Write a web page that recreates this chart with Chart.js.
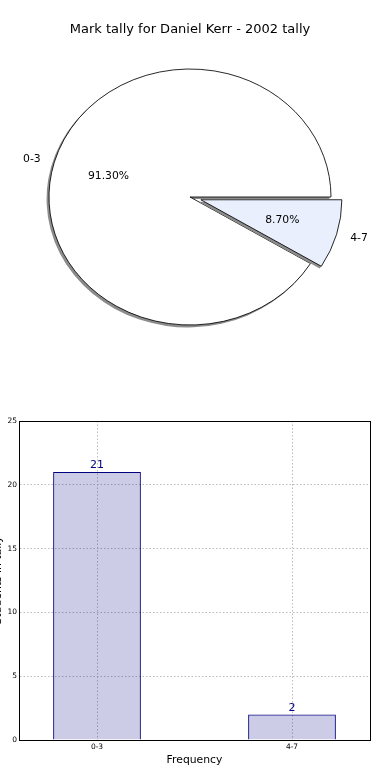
<!DOCTYPE html>
<html>
<head>
<meta charset="utf-8">
<script src="https://cdn.jsdelivr.net/npm/chart.js@4.4.1/dist/chart.umd.min.js"></script>
<style>
  body { margin: 0; background: #fff; }
  canvas { display: block; }
</style>
</head>
<body>
<canvas id="pieChart" width="390" height="380"></canvas>
<canvas id="barChart" width="390" height="400"></canvas>
<script>
// Chart data
const titleText = "Mark tally for Daniel Kerr - 2002 tally";
const categories = ["0-3", "4-7"];
const tally = [21, 2];
const sliceColors = ["#ffffff", "#e9effc"];
const explode = [0, 0.08];
const yTicks = [0, 5, 10, 15, 20, 25];
const xTitle = "Frequency";
const yTitle = "Students in tally";

const total = tally.reduce((a, b) => a + b, 0);
const pieRadius = 128;
const stretchX = 141 / 128; // the pie is drawn as an ellipse
const font = "DejaVu Sans";

// how far a wedge is pulled out along its middle angle
function wedgeShift(arc, i) {
  let mid = (arc.startAngle + arc.endAngle) / 2;
  let off = explode[i] * arc.outerRadius;
  return { dx: off * Math.cos(mid), dy: off * Math.sin(mid) };
}

// Stretch the pie sideways, pull wedges out, add a drop shadow, then write the labels
const pieLook = {
  id: "pieLook",
  beforeDatasetDraw(chart, args) {
    let ctx = chart.ctx;
    let arcs = chart.getDatasetMeta(args.index).data;
    let cx = arcs[0].x, cy = arcs[0].y;
    ctx.save();
    ctx.translate(cx, cy);
    ctx.scale(stretchX, 1);
    ctx.translate(-cx, -cy);
    arcs.forEach((arc, i) => {
      let s = wedgeShift(arc, i);
      // shadow, shifted down-left
      ctx.save();
      ctx.translate(s.dx - 2 / stretchX, s.dy + 2);
      ctx.beginPath();
      ctx.moveTo(cx, cy);
      ctx.arc(cx, cy, arc.outerRadius + 0.4, arc.startAngle, arc.endAngle);
      ctx.closePath();
      ctx.fillStyle = "#8c8c8c";
      ctx.fill();
      ctx.restore();
      // the wedge itself
      ctx.save();
      ctx.translate(s.dx, s.dy);
      arc.draw(ctx, chart.chartArea);
      ctx.restore();
    });
    ctx.restore();
    return false;
  },
  afterDatasetsDraw(chart) {
    let ctx = chart.ctx;
    ctx.save();
    ctx.font = "10.8px '" + font + "'";
    ctx.fillStyle = "#000";
    ctx.textBaseline = "middle";
    chart.getDatasetMeta(0).data.forEach((arc, i) => {
      let mid = (arc.startAngle + arc.endAngle) / 2;
      let r = arc.outerRadius;
      let off = explode[i] * r;
      let c = Math.cos(mid), s = Math.sin(mid);
      // category label
      ctx.textAlign = c < 0 ? "right" : "left";
      ctx.fillText(categories[i], arc.x + (1.1 * r + off) * c * stretchX, arc.y + (1.1 * r + off) * s);
      // percentage
      ctx.textAlign = "center";
      let pct = (tally[i] / total * 100).toFixed(2) + "%";
      ctx.fillText(pct, arc.x + (0.6 * r + off) * c * stretchX, arc.y + (0.6 * r + off) * s);
    });
    ctx.restore();
  }
};

new Chart(document.getElementById("pieChart"), {
  type: "pie",
  data: {
    labels: categories,
    datasets: [{
      data: tally,
      backgroundColor: sliceColors,
      borderColor: "#000",
      borderWidth: 0.8,
      hoverOffset: 0,
      clip: false
    }]
  },
  options: {
    responsive: false,
    animation: false,
    events: [],
    radius: pieRadius,
    rotation: 90 + 360 * tally[1] / total,
    layout: { padding: { top: 0, left: 0, right: 10, bottom: 23.6 } },
    plugins: {
      legend: { display: false },
      tooltip: { enabled: false },
      title: {
        display: true,
        text: titleText,
        color: "#000",
        font: { family: font, size: 13, weight: "normal" },
        padding: { top: 22, bottom: 0 }
      }
    }
  },
  plugins: [pieLook]
});

// Box around the plot and the bar values
const barLook = {
  id: "barLook",
  afterDraw(chart) {
    let ctx = chart.ctx;
    let a = chart.chartArea;
    ctx.save();
    ctx.strokeStyle = "#000";
    ctx.lineWidth = 1;
    ctx.strokeRect(Math.round(a.left) + 0.5, Math.round(a.top) + 0.5,
      Math.round(a.right - a.left), Math.round(a.bottom - a.top));
    ctx.font = "11px '" + font + "'";
    ctx.fillStyle = "#000080";
    ctx.textAlign = "center";
    ctx.textBaseline = "bottom";
    chart.getDatasetMeta(0).data.forEach((bar, i) => {
      ctx.fillText(String(tally[i]), bar.x, bar.y - 1);
    });
    ctx.restore();
  }
};

new Chart(document.getElementById("barChart"), {
  type: "bar",
  data: {
    datasets: [{
      data: tally.map((v, i) => ({ x: i, y: v })),
      backgroundColor: "rgba(0,0,128,0.2)",
      borderColor: "#000080",
      borderWidth: 1,
      barPercentage: 0.45,
      categoryPercentage: 1
    }]
  },
  options: {
    responsive: false,
    animation: false,
    events: [],
    layout: { padding: { top: 41, left: 0, right: 20, bottom: 0 } },
    plugins: {
      legend: { display: false },
      tooltip: { enabled: false }
    },
    scales: {
      x: {
        type: "linear",
        min: -0.4,
        max: 1.4,
        offset: false,
        afterBuildTicks(axis) { axis.ticks = categories.map((c, i) => ({ value: i })); },
        afterFit(axis) { axis.height = 40; },
        ticks: {
          callback: v => categories[v],
          color: "#000",
          font: { family: font, size: 7.5 },
          padding: 3,
          maxRotation: 0,
          autoSkip: false
        },
        grid: { color: "#bcbcbc", drawTicks: false, offset: false },
        border: { display: true, color: "#000", dash: [1.5, 2] },
        title: {
          display: true,
          text: xTitle,
          color: "#000",
          font: { family: font, size: 10.8 },
          padding: { top: 0, bottom: 13 }
        }
      },
      y: {
        min: 0,
        max: 25,
        afterBuildTicks(axis) { axis.ticks = yTicks.map(v => ({ value: v })); },
        afterFit(axis) { axis.width = 19; },
        ticks: {
          color: "#000",
          font: { family: font, size: 7.5 },
          padding: 2
        },
        grid: { color: "#bcbcbc", drawTicks: false },
        border: { display: true, color: "#000", dash: [1.5, 2] },
        title: {
          display: true,
          text: yTitle,
          color: "#000",
          font: { family: font, size: 10.8 },
          padding: { top: -8.5, bottom: 0 }
        }
      }
    }
  },
  plugins: [barLook]
});
</script>
</body>
</html>
